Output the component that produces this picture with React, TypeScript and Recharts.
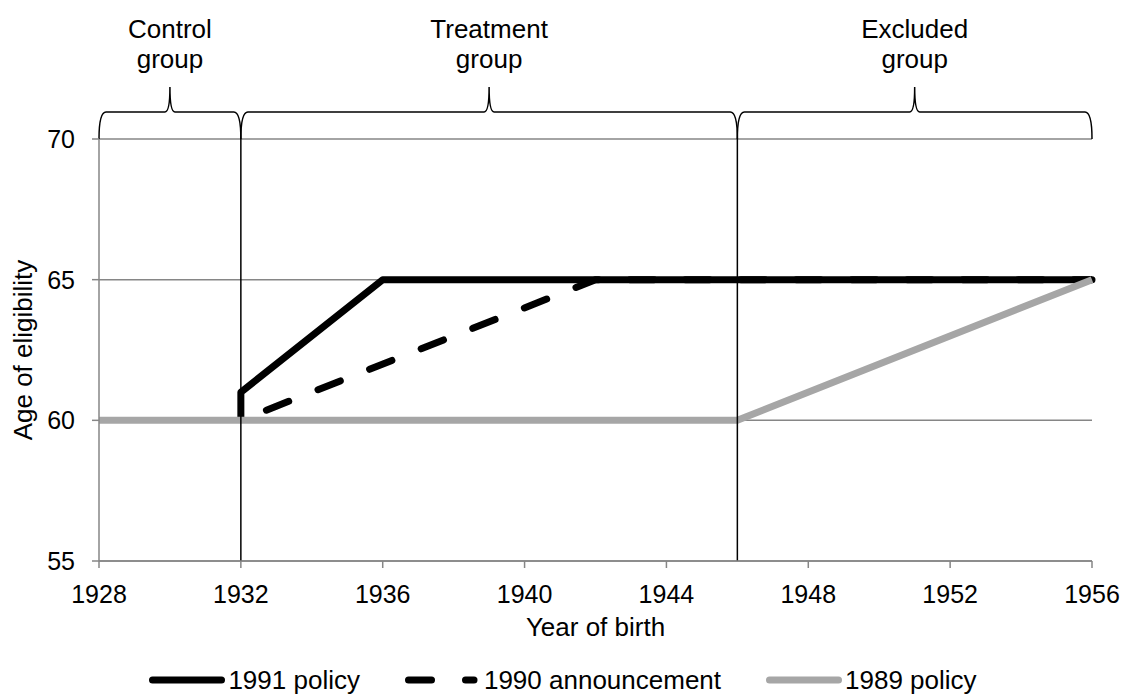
import React from 'react';
import {
  LineChart,
  Line,
  XAxis,
  YAxis,
  CartesianGrid,
  ReferenceLine,
  Legend,
} from 'recharts';

// ---------- data ----------
const xTicks = [1928, 1932, 1936, 1940, 1944, 1948, 1952, 1956];
const yTicks = [55, 60, 65, 70];

const policy1991Years = [1932, 1932, 1936, 1956];
const policy1991Ages = [60, 61, 65, 65];

const announce1990Years = [1932, 1942, 1956];
const announce1990Ages = [60, 65, 65];

const policy1989Years = [1928, 1946, 1956];
const policy1989Ages = [60, 60, 65];

const dividerYears = [1932, 1946];

const groupFirstLines = ['Control', 'Treatment', 'Excluded'];
const groupSecondLines = ['group', 'group', 'group'];
const groupStart = [1928, 1932, 1946];
const groupEnd = [1932, 1946, 1956];

const seriesNames = ['1991 policy', '1990 announcement', '1989 policy'];

// ---------- build ----------
const zip = (xs: number[], ys: number[]) => xs.map((x, i) => ({ x, y: ys[i] }));
const data1991 = zip(policy1991Years, policy1991Ages);
const data1990 = zip(announce1990Years, announce1990Ages);
const data1989 = zip(policy1989Years, policy1989Ages);

const FONT = "'Liberation Sans', Arial, sans-serif";
const GRID = '#868686';
const GRAY = '#a6a6a6';
const TICK_FONT = 25;

const makeBrace = (first: string, second: string) => (props: any) => {
  const { x1, x2, y1 } = props;
  const y = y1;
  const h = 27;
  const t = 25;
  const yh = y - h;
  const yt = yh - t;
  const xm = (x1 + x2) / 2;
  const d = [
    `M ${x1} ${y}`,
    `Q ${x1} ${yh} ${x1 + 7} ${yh}`,
    `L ${xm - 5} ${yh}`,
    `Q ${xm} ${yh} ${xm} ${yt}`,
    `Q ${xm} ${yh} ${xm + 5} ${yh}`,
    `L ${x2 - 7} ${yh}`,
    `Q ${x2} ${yh} ${x2} ${y}`,
  ].join(' ');
  return (
    <g>
      <path d={d} fill="none" stroke="#000" strokeWidth={1.5} />
      <text x={xm} y={y - 101} textAnchor="middle" fontSize={26} fontFamily={FONT} fill="#000">
        {first}
      </text>
      <text x={xm} y={y - 71} textAnchor="middle" fontSize={26} fontFamily={FONT} fill="#000">
        {second}
      </text>
    </g>
  );
};

const XTick = (props: any) => {
  const { x, y, payload } = props;
  return (
    <text
      x={x}
      y={y}
      dy={TICK_FONT * 0.71}
      textAnchor="middle"
      fontSize={TICK_FONT}
      fontFamily={FONT}
      fill="#000"
    >
      {payload.value}
    </text>
  );
};

const YTick = (props: any) => {
  const { x, y, payload } = props;
  return (
    <text
      x={x}
      y={y}
      dy={TICK_FONT * 0.355}
      textAnchor="end"
      fontSize={TICK_FONT}
      fontFamily={FONT}
      fill="#000"
    >
      {payload.value}
    </text>
  );
};

const LegendIcon = ({ kind }: { kind: number }) => {
  if (kind === 1) {
    return (
      <svg width={76} height={12} style={{ display: 'block' }}>
        <line x1={3.5} y1={6} x2={26.5} y2={6} stroke="#000" strokeWidth={7} strokeLinecap="round" />
        <line x1={60.5} y1={6} x2={69} y2={6} stroke="#000" strokeWidth={7} strokeLinecap="round" />
      </svg>
    );
  }
  return (
    <svg width={76} height={12} style={{ display: 'block' }}>
      <line
        x1={3.5}
        y1={6}
        x2={72.5}
        y2={6}
        stroke={kind === 0 ? '#000' : GRAY}
        strokeWidth={7}
        strokeLinecap="round"
      />
    </svg>
  );
};

const renderLegend = () => (
  <div
    style={{
      display: 'flex',
      justifyContent: 'center',
      alignItems: 'center',
      height: 32,
      fontFamily: FONT,
      fontSize: 26,
      color: '#000',
    }}
  >
    {seriesNames.map((name, i) => (
      <div
        key={name}
        style={{
          display: 'flex',
          alignItems: 'center',
          marginRight: i < seriesNames.length - 1 ? 45 : 0,
        }}
      >
        <LegendIcon kind={i} />
        <span style={{ marginLeft: 3, whiteSpace: 'nowrap' }}>{name}</span>
      </div>
    ))}
  </div>
);

export default function App() {
  return (
    <div style={{ position: 'absolute', left: 0, top: 0, width: 1126, height: 699, background: '#fff' }}>
      <LineChart
        width={1126}
        height={699}
        margin={{ top: 139, right: 34, bottom: 58, left: 0 }}
      >
        <CartesianGrid
          vertical={false}
          horizontal={true}
          stroke={GRID}
          strokeWidth={1.5}
          horizontalValues={yTicks}
        />
        <XAxis
          type="number"
          dataKey="x"
          domain={[1928, 1956]}
          ticks={xTicks}
          interval={0}
          height={80}
          tickSize={7}
          tickMargin={17}
          stroke={GRID}
          strokeWidth={1.5}
          tick={<XTick />}
          label={{
            content: (p: any) => {
              const vb = p.viewBox || { x: 99, y: 561, width: 993, height: 80 };
              return (
                <text
                  x={vb.x + vb.width / 2}
                  y={vb.y + 75}
                  textAnchor="middle"
                  fontSize={26}
                  fontFamily={FONT}
                  fill="#000"
                >
                  Year of birth
                </text>
              );
            },
          }}
        />
        <YAxis
          type="number"
          dataKey="y"
          domain={[55, 70]}
          ticks={yTicks}
          interval={0}
          width={99}
          tickSize={7}
          tickMargin={17}
          stroke={GRID}
          strokeWidth={1.5}
          tick={<YTick />}
          label={{
            content: (p: any) => {
              const vb = p.viewBox || { x: 0, y: 139, width: 99, height: 422 };
              const cx = vb.x + 32;
              const cy = vb.y + vb.height / 2;
              return (
                <text
                  x={cx}
                  y={cy}
                  transform={`rotate(-90 ${cx} ${cy})`}
                  textAnchor="middle"
                  fontSize={26}
                  fontFamily={FONT}
                  fill="#000"
                >
                  Age of eligibility
                </text>
              );
            },
          }}
        />
        <Line
          data={data1991}
          dataKey="y"
          name={seriesNames[0]}
          type="linear"
          stroke="#000"
          strokeWidth={7}
          strokeLinejoin="round"
          dot={false}
          activeDot={false}
          isAnimationActive={false}
        />
        <Line
          data={data1990}
          dataKey="y"
          name={seriesNames[1]}
          type="linear"
          stroke="#000"
          strokeWidth={7}
          strokeDasharray="24 31.5"
          strokeDashoffset={28}
          strokeLinecap="round"
          dot={false}
          activeDot={false}
          isAnimationActive={false}
        />
        <Line
          data={data1989}
          dataKey="y"
          name={seriesNames[2]}
          type="linear"
          stroke={GRAY}
          strokeWidth={7}
          strokeLinejoin="round"
          dot={false}
          activeDot={false}
          isAnimationActive={false}
        />
        {dividerYears.map((yr) => (
          <ReferenceLine key={`d${yr}`} x={yr} stroke="#000" strokeWidth={1.5} ifOverflow="visible" />
        ))}
        {groupStart.map((s, i) => (
          <ReferenceLine
            key={`b${i}`}
            segment={[
              { x: s, y: 70 },
              { x: groupEnd[i], y: 70 },
            ]}
            ifOverflow="visible"
            stroke="#000"
            shape={makeBrace(groupFirstLines[i], groupSecondLines[i])}
          />
        ))}
        <Legend
          verticalAlign="middle"
          align="center"
          layout="horizontal"
          wrapperStyle={{ top: 664, left: 0, width: 1126, height: 32 }}
          content={renderLegend}
        />
      </LineChart>
    </div>
  );
}
